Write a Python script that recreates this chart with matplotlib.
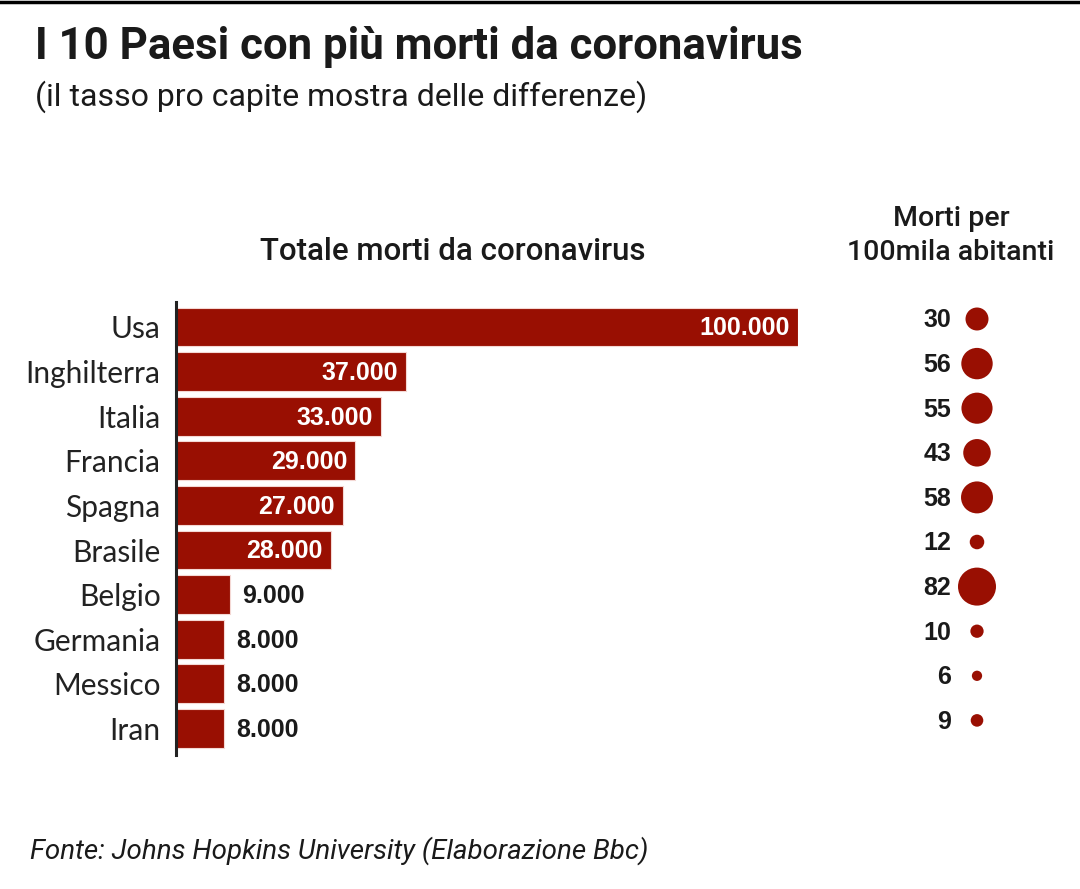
import matplotlib
matplotlib.use("Agg")
import matplotlib.pyplot as plt

countries = ["Usa", "Inghilterra", "Italia", "Francia", "Spagna", "Brasile",
             "Belgio", "Germania", "Messico", "Iran"]
death_labels = ["100.000", "37.000", "33.000", "29.000", "27.000", "28.000",
                "9.000", "8.000", "8.000", "8.000"]
bar_lengths = [100000, 37000, 33000, 28800, 26800, 24900, 8700, 7700, 7700, 7700]
per100k = [30, 56, 55, 43, 58, 12, 82, 10, 6, 9]

RED = "#990F02"
TXT = "#1a1a1a"
W, H = 1080, 889
fig = plt.figure(figsize=(W / 100, H / 100), dpi=100)
fig.patch.set_facecolor("white")

def fx(px):
    return px / W

def fy(py):
    return 1 - py / H

# top black rule
fig.add_artist(plt.Line2D([0, 1], [fy(1.5), fy(1.5)], color="black", lw=2.5))

# titles
fig.text(fx(35), fy(47), "I 10 Paesi con più morti da coronavirus", fontsize=31.5,
         fontweight="bold", family="Roboto", color=TXT, va="center", ha="left")
fig.text(fx(35), fy(97), "(il tasso pro capite mostra delle differenze)", fontsize=23,
         family="Roboto", color=TXT, va="center", ha="left")
fig.text(fx(453), fy(251), "Totale morti da coronavirus", fontsize=22.5,
         family="Roboto", fontweight="medium", color=TXT, va="center", ha="center")
fig.text(fx(951), fy(218), "Morti per", fontsize=20.5,
         family="Roboto", fontweight="medium", color=TXT, va="center", ha="center")
fig.text(fx(951), fy(253), "100mila abitanti", fontsize=20.5,
         family="Roboto", fontweight="medium", color=TXT, va="center", ha="center")
fig.text(fx(30), fy(851), "Fonte: Johns Hopkins University (Elaborazione Bbc)", fontsize=20,
         family="Roboto", style="italic", color=TXT, va="center", ha="left")

# bar axes
row0, step = 327, 44.6
top_px, bot_px = 302, 755
ax = fig.add_axes([fx(176), fy(bot_px), fx(798) - fx(176), (bot_px - top_px) / H])
ylo = (top_px - row0) / step
yhi = (bot_px - row0) / step
ypos = list(range(len(countries)))
ax.barh(ypos, bar_lengths, height=0.87, color=RED, edgecolor="#f4d8d4", linewidth=0.8)
ax.set_xlim(0, 100000)
ax.set_ylim(yhi, ylo)
for s in ["top", "right", "bottom"]:
    ax.spines[s].set_visible(False)
ax.spines["left"].set_linewidth(2.2)
ax.spines["left"].set_color("#222222")
ax.set_xticks([])
ax.set_yticks(ypos)
ax.set_yticklabels(countries, fontsize=21.5, family="Lato", color="#222222")
ax.tick_params(axis="y", length=0, pad=11)
ax.patch.set_alpha(0)

px_per_unit = (798 - 176) / 100000
for i, (v, lab) in enumerate(zip(bar_lengths, death_labels)):
    if v > 20000:
        ax.text(v - 8 / px_per_unit, i + 0.03, lab, color="white", fontsize=18,
                fontweight="bold", family="Liberation Sans", ha="right", va="center")
    else:
        ax.text(v + 12 / px_per_unit, i + 0.03, lab, color=TXT, fontsize=18,
                fontweight="bold", family="Liberation Sans", ha="left", va="center")

# bubble axes (rows sit ~8 px higher than the bars)
b_top, b_bot = top_px - 8, bot_px - 8
ax2 = fig.add_axes([fx(880), fy(b_bot), fx(1075) - fx(880), (b_bot - b_top) / H])
ax2.set_xlim(880, 1075)
ax2.set_ylim(yhi, ylo)
ax2.axis("off")
sizes = [((38 * (v / 82) ** 0.5) * 0.72) ** 2 for v in per100k]
ax2.scatter([977] * len(per100k), ypos, s=sizes, color=RED, edgecolor="none")
for i, v in enumerate(per100k):
    ax2.text(951, i + 0.03, str(v), fontsize=18, fontweight="bold",
             family="Liberation Sans", ha="right", va="center", color=TXT)

fig.savefig("out.png", dpi=100, facecolor="white")
